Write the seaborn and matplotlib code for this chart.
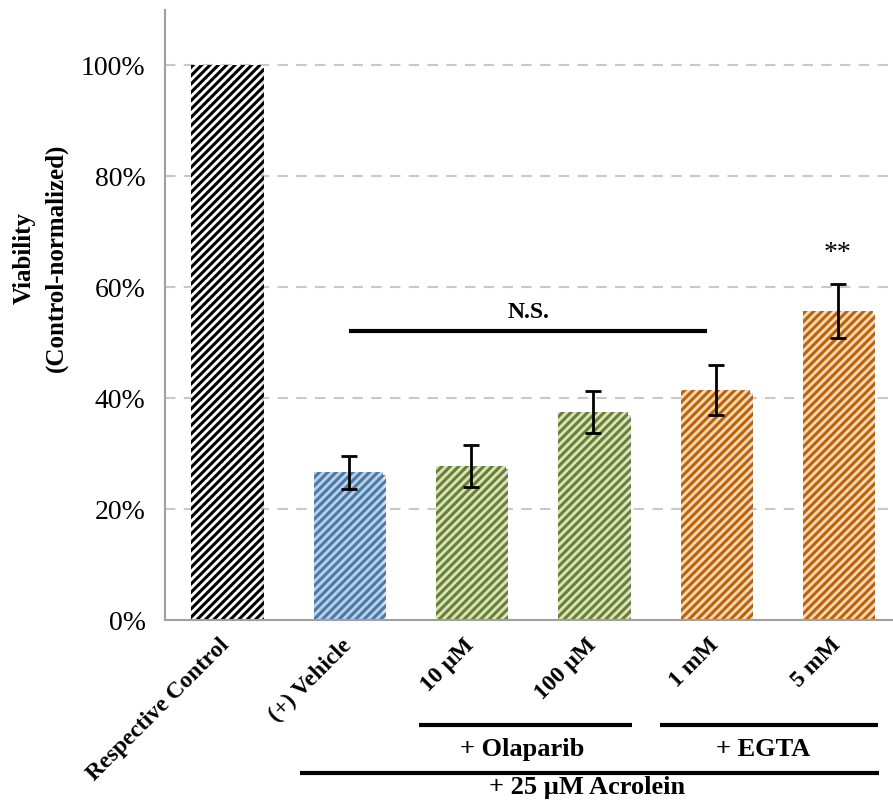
import matplotlib
matplotlib.use("Agg")
import matplotlib.pyplot as plt
import matplotlib.patheffects as pe
import matplotlib.transforms as mtransforms
import pandas as pd
import seaborn as sns

# Viability (% of control) with SEM
categories = ["Respective Control", "(+) Vehicle", "10 µM", "100 µM", "1 mM", "5 mM"]
viability = [100.0, 26.6, 27.8, 37.5, 41.4, 55.7]
sem = [0.0, 3.0, 3.8, 3.8, 4.5, 4.9]

# hatch foreground / background per bar
hatch_colors = ["#000000", "#4a7aab", "#6b7f35", "#6b7f35", "#b9630a", "#b9630a"]
fill_colors = ["#ffffff", "#bcd0e6", "#d8e4bc", "#d8e4bc", "#fcd9b4", "#fcd9b4"]

ytick_values = [0, 20, 40, 60, 80, 100]
ytick_labels = ["0%", "20%", "40%", "60%", "80%", "100%"]

sns.set_style("white")
plt.rcParams["font.family"] = ["Liberation Serif", "DejaVu Serif"]
plt.rcParams["hatch.linewidth"] = 2.2
for key in ["text.color", "axes.labelcolor", "xtick.labelcolor", "ytick.labelcolor"]:
    plt.rcParams[key] = "black"

df = pd.DataFrame({"group": categories, "viability": viability})

fig = plt.figure(figsize=(8.93, 8.01), dpi=100)
W, H = 893, 801
ax = fig.add_axes([165 / W, 1 - 620 / H, (899 - 165) / W, 610 / H])

sns.barplot(data=df, x="group", y="viability", hue="group", palette=fill_colors,
            saturation=1, width=0.57, legend=False, ax=ax, errorbar=None)

shadow = [pe.SimplePatchShadow(offset=(2, -2), shadow_rgbFace="#000000", alpha=0.12), pe.Normal()]
for patch, hc in zip(ax.patches, hatch_colors):
    patch.set_hatch("////")
    patch.set_edgecolor(hc)
    patch.set_linewidth(0)
    patch.set_path_effects(shadow)

xs = list(range(len(categories)))
err_x = [x for x, e in zip(xs, sem) if e > 0]
err_y = [v for v, e in zip(viability, sem) if e > 0]
err_e = [e for e in sem if e > 0]
ax.errorbar(err_x, err_y, yerr=err_e, fmt="none", ecolor="black",
            elinewidth=2.0, capsize=6, capthick=2.0, zorder=5)

ax.set_xlim(-0.5, 5.5)
ax.set_ylim(0, 110)
ax.set_yticks(ytick_values)
ax.set_yticklabels(ytick_labels, fontsize=20)
ax.yaxis.grid(True, color="#c8c8c8", linestyle=(0, (5, 4)), linewidth=1.5)
ax.set_axisbelow(True)

ax.set_xticks(xs)
ax.set_xticklabels(categories, rotation=45, ha="right", va="center",
                   rotation_mode="anchor", fontsize=17, fontweight="bold")
ax.tick_params(axis="x", which="major", length=0, pad=16)
ax.set_xticks([x - 0.5 for x in xs] + [5.5], minor=True)
ax.tick_params(axis="x", which="minor", length=6, width=1.5, color="#a0a0a0", direction="out")
ax.tick_params(axis="y", length=6, width=1.5, color="#a0a0a0", direction="out", pad=8)

for side in ["top", "right"]:
    ax.spines[side].set_visible(False)
for side in ["left", "bottom"]:
    ax.spines[side].set_color("#a0a0a0")
    ax.spines[side].set_linewidth(1.5)

ax.set_xlabel("")
ax.set_ylabel("Viability\n(Control-normalized)", fontsize=18, fontweight="bold", linespacing=1.5)
ax.yaxis.set_label_coords(-0.132, 0.593)

# significance annotations
ax.plot([1.0, 3.93], [52.1, 52.1], color="black", lw=3, solid_capstyle="butt")
ax.text(2.47, 55.5, "N.S.", ha="center", va="center", fontsize=17, fontweight="bold")
ax.text(5.0, 66.0, "**", ha="center", va="center", fontsize=20)

# treatment group brackets below the axis
trans = mtransforms.blended_transform_factory(ax.transData, ax.transAxes)
groups = [
    (1.58, 3.32, -0.172, 2.42, -0.213, "+ Olaparib"),
    (3.55, 5.33, -0.172, 4.39, -0.213, "+ EGTA"),
    (0.60, 5.34, -0.251, 2.95, -0.275, "+ 25 µM Acrolein"),
]
for x0, x1, yl, xt, yt, label in groups:
    ax.plot([x0, x1], [yl, yl], color="black", lw=3, transform=trans, clip_on=False,
            solid_capstyle="butt")
    ax.text(xt, yt, label, transform=trans, ha="center", va="center",
            fontsize=19, fontweight="bold")

fig.savefig("out.png", dpi=100)
